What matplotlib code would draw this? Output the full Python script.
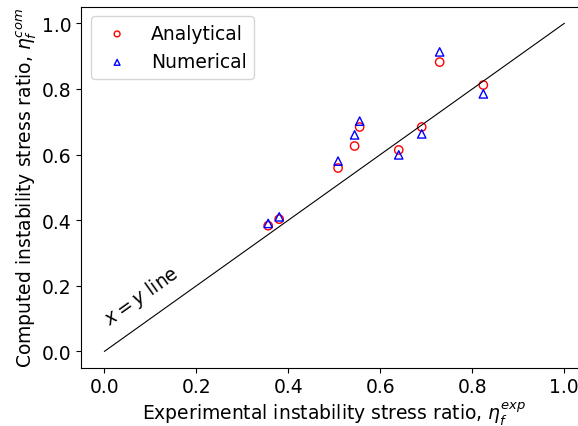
import numpy as np
import matplotlib
matplotlib.use('Agg')
import matplotlib.pyplot as plt

# experimental vs computed instability stress ratio
exp_ratio = [0.356, 0.380, 0.508, 0.544, 0.555, 0.640, 0.690, 0.729, 0.824]
analytical = [0.383, 0.403, 0.559, 0.626, 0.684, 0.614, 0.684, 0.882, 0.812]
numerical = [0.390, 0.410, 0.580, 0.660, 0.702, 0.599, 0.663, 0.913, 0.785]
line_xy = [0.0, 1.0]

fs = 13.5
fig = plt.figure(figsize=(5.78, 4.27), dpi=100)
ax = fig.add_axes([0.141, 0.1365, 0.875, 0.8448])

ax.plot(line_xy, line_xy, color='k', lw=0.8)
ax.scatter(exp_ratio, analytical, s=36, facecolors='none', edgecolors='r',
           label='Analytical')
ax.scatter(exp_ratio, numerical, s=36, marker='^', facecolors='none',
           edgecolors='b', label='Numerical')

ax.text(0.012, 0.08, '$x = y$ line', rotation=35.4, rotation_mode='anchor',
        ha='left', va='baseline', fontsize=fs)

ax.set_xlabel(r'Experimental instability stress ratio, $\eta_f^{exp}$', fontsize=fs,
              labelpad=2)
ax.set_ylabel(r'Computed instability stress ratio, $\eta_f^{com}$', fontsize=fs,
              labelpad=2)
ax.tick_params(labelsize=fs)
ax.legend(loc='upper left', fontsize=fs, markerscale=0.7)

fig.savefig('out.png', dpi=100)
